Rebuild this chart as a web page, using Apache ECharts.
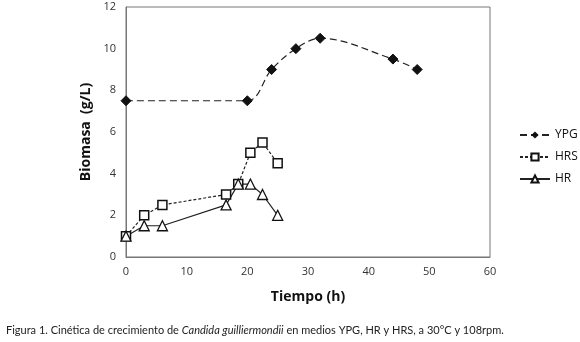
<!DOCTYPE html>
<html>
<head>
<meta charset="utf-8">
<script src="https://cdn.jsdelivr.net/npm/echarts@6/dist/echarts.min.js"></script>
<style>
  html, body { margin: 0; padding: 0; background: #fff; }
  #chart { width: 580px; height: 342px; }
</style>
</head>
<body>
<div id="chart"></div>
<script>
// tiempo (h) / biomasa (g/L)
const ypgTime = [0, 20, 24, 28, 32, 44, 48];
const ypgBiomass = [7.5, 7.5, 9, 10, 10.5, 9.5, 9];
const hrsTime = [0, 3, 6, 16.5, 18.5, 20.5, 22.5, 25];
const hrsBiomass = [1, 2, 2.5, 3, 3.5, 5, 5.5, 4.5];
const hrTime = [0, 3, 6, 16.5, 18.5, 20.5, 22.5, 25];
const hrBiomass = [1, 1.5, 1.5, 2.5, 3.5, 3.5, 3, 2];

const zip = (xs, ys) => xs.map((x, i) => [x, ys[i]]);

const chart = echarts.init(document.getElementById("chart"));

const font = "'Open Sans', 'Noto Sans', sans-serif";

const option = {
  animation: false,
  backgroundColor: "#fff",
  textStyle: { fontFamily: font },
  grid: {
    left: 126,
    right: 90,
    top: 7,
    bottom: 85,
    show: true,
    borderColor: "#777",
    borderWidth: 1,
  },
  legend: {
    orient: "vertical",
    left: 514,
    top: 124,
    itemWidth: 30,
    itemHeight: 9,
    itemGap: 10,
    textStyle: { fontSize: 12, color: "#111", fontFamily: font },
    data: ["YPG", "HRS", "HR"],
  },
  xAxis: {
    type: "value",
    min: 0,
    max: 60,
    interval: 10,
    name: "Tiempo (h)",
    nameLocation: "middle",
    nameGap: 33,
    nameTextStyle: { fontSize: 14, fontWeight: "bold", color: "#111" },
    axisLine: { lineStyle: { color: "#777" } },
    axisTick: { show: false },
    splitLine: { show: false },
    axisLabel: { color: "#333", fontSize: 11, margin: 9 },
  },
  yAxis: {
    type: "value",
    min: 0,
    max: 12,
    interval: 2,
    name: "Biomasa  (g/L)",
    nameLocation: "middle",
    nameGap: 28,
    nameTextStyle: { fontSize: 14, fontWeight: "bold", color: "#111" },
    axisLine: { show: true, lineStyle: { color: "#777" } },
    axisTick: { show: false },
    splitLine: { show: false },
    axisLabel: { color: "#333", fontSize: 11, margin: 10 },
  },
  series: [
    {
      name: "YPG",
      type: "line",
      smooth: 0.35,
      data: zip(ypgTime, ypgBiomass),
      symbol: "diamond",
      symbolSize: 10,
      itemStyle: { color: "#111", borderColor: "#111" },
      lineStyle: { color: "#222", width: 1.2, type: [7, 4] },
    },
    {
      name: "HRS",
      type: "line",
      data: zip(hrsTime, hrsBiomass),
      symbol: "rect",
      symbolSize: 9,
      itemStyle: { color: "#fff", borderColor: "#111", borderWidth: 1.5 },
      lineStyle: { color: "#222", width: 1.2, type: [3, 2] },
    },
    {
      name: "HR",
      type: "line",
      data: zip(hrTime, hrBiomass),
      symbol: "triangle",
      symbolSize: 10,
      itemStyle: { color: "#fff", borderColor: "#111", borderWidth: 1.3 },
      lineStyle: { color: "#222", width: 1.2 },
    },
  ],
  graphic: [
    {
      type: "text",
      left: 6,
      top: 325,
      style: {
        text: "{n|Figura 1. Cinética de crecimiento de }{i|Candida guilliermondii}{n| en medios YPG, HR y HRS, a 30°C y 108rpm.}",
        rich: {
          n: { fontSize: 11, fontFamily: "Lato, sans-serif", fill: "#222" },
          i: { fontSize: 11, fontFamily: "Lato, sans-serif", fontStyle: "italic", fill: "#222" },
        },
      },
    },
  ],
};

chart.setOption(option);
</script>
</body>
</html>
